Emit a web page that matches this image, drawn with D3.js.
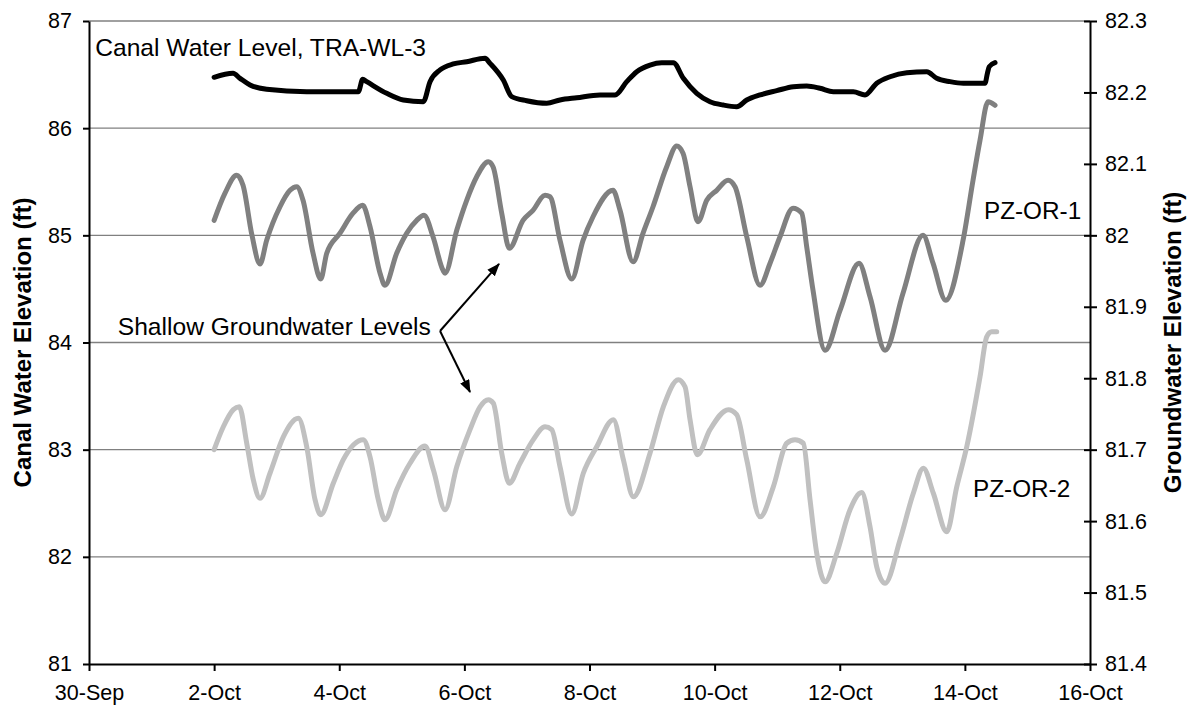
<!DOCTYPE html>
<html>
<head>
<meta charset="utf-8">
<script src="https://cdn.jsdelivr.net/npm/d3@7"></script>
<style>
    body { margin: 0; background: #fff; }
    svg { font-family: "Liberation Sans", Arial, sans-serif; }
</style>
</head>
<body>
<div class="chart-container"></div>
<script>
// Day numbers: 0 = 30-Sep, then N = N-Oct (fractions are hours)
const xTickDays = [0, 2, 4, 6, 8, 10, 12, 14, 16];
const xTickLabels = ['30-Sep', '2-Oct', '4-Oct', '6-Oct', '8-Oct', '10-Oct', '12-Oct', '14-Oct', '16-Oct'];
const leftTicks = [81, 82, 83, 84, 85, 86, 87];
const rightTicks = [81.4, 81.5, 81.6, 81.7, 81.8, 81.9, 82.0, 82.1, 82.2, 82.3];

// Canal water level (left axis, ft)
const canalData = [
    [2.000, 86.475], [2.302, 86.512], [2.414, 86.465], [2.574, 86.403], [2.840, 86.363],
    [3.480, 86.340], [4.305, 86.340], [4.375, 86.456], [4.439, 86.434], [4.759, 86.325],
    [5.024, 86.263], [5.344, 86.247], [5.451, 86.434], [5.611, 86.543], [5.823, 86.599],
    [6.037, 86.620], [6.330, 86.652], [6.410, 86.605], [6.622, 86.449], [6.757, 86.294],
    [6.996, 86.256], [7.316, 86.232], [7.529, 86.263], [7.796, 86.284], [8.168, 86.310],
    [8.408, 86.310], [8.595, 86.434], [8.755, 86.527], [8.967, 86.589], [9.154, 86.611],
    [9.340, 86.611], [9.500, 86.465], [9.714, 86.325], [9.926, 86.247], [10.139, 86.216],
    [10.353, 86.200], [10.513, 86.263], [10.726, 86.310], [10.993, 86.350], [11.258, 86.387],
    [11.472, 86.393], [11.685, 86.372], [11.897, 86.340], [12.217, 86.340], [12.404, 86.310],
    [12.591, 86.419], [12.804, 86.480], [13.071, 86.518], [13.390, 86.527], [13.550, 86.465],
    [13.763, 86.434], [13.976, 86.419], [14.322, 86.419], [14.360, 86.512], [14.390, 86.574],
    [14.482, 86.611]
];

// PZ-OR-1 groundwater (right axis, ft)
const pz1Data = [
    [2.000, 82.021], [2.174, 82.059], [2.361, 82.084], [2.462, 82.070], [2.605, 82.000],
    [2.733, 81.960], [2.840, 81.993], [3.053, 82.040], [3.213, 82.063], [3.320, 82.068],
    [3.421, 82.049], [3.581, 81.975], [3.704, 81.939], [3.800, 81.975], [4.012, 82.003],
    [4.220, 82.031], [4.375, 82.042], [4.492, 82.012], [4.652, 81.947], [4.731, 81.930],
    [4.918, 81.975], [5.078, 82.003], [5.238, 82.021], [5.355, 82.028], [5.499, 81.998],
    [5.659, 81.951], [5.691, 81.947], [5.878, 82.007], [6.037, 82.049], [6.197, 82.082],
    [6.383, 82.103], [6.458, 82.096], [6.597, 82.031], [6.718, 81.982], [6.937, 82.021],
    [7.097, 82.035], [7.289, 82.056], [7.369, 82.054], [7.529, 81.993], [7.716, 81.939],
    [7.897, 81.993], [8.056, 82.026], [8.376, 82.063], [8.488, 82.035], [8.696, 81.963],
    [8.856, 82.003], [9.015, 82.040], [9.234, 82.096], [9.394, 82.125], [9.495, 82.115],
    [9.607, 82.068], [9.735, 82.019], [9.874, 82.049], [10.034, 82.063], [10.214, 82.077],
    [10.326, 82.068], [10.513, 81.998], [10.726, 81.930], [10.886, 81.961], [11.045, 81.998],
    [11.253, 82.038], [11.392, 82.031], [11.472, 81.984], [11.573, 81.923], [11.765, 81.839],
    [12.005, 81.895], [12.308, 81.961], [12.484, 81.914], [12.724, 81.839], [13.011, 81.919],
    [13.331, 82.000], [13.491, 81.961], [13.694, 81.909], [13.971, 81.993], [14.130, 82.077],
    [14.242, 82.133], [14.370, 82.187], [14.482, 82.182]
];

// PZ-OR-2 groundwater (right axis, ft)
const pz2Data = [
    [2.000, 81.700], [2.147, 81.732], [2.307, 81.756], [2.402, 81.760], [2.521, 81.709],
    [2.626, 81.658], [2.733, 81.632], [2.893, 81.667], [3.106, 81.718], [3.346, 81.744],
    [3.480, 81.704], [3.613, 81.630], [3.704, 81.609], [3.905, 81.653], [4.065, 81.686],
    [4.385, 81.714], [4.492, 81.690], [4.624, 81.630], [4.731, 81.602], [4.918, 81.644],
    [5.131, 81.681], [5.371, 81.705], [5.504, 81.672], [5.691, 81.616], [5.878, 81.676],
    [6.090, 81.728], [6.250, 81.760], [6.383, 81.770], [6.463, 81.765], [6.597, 81.695],
    [6.718, 81.653], [6.889, 81.681], [7.102, 81.714], [7.289, 81.732], [7.396, 81.728],
    [7.529, 81.676], [7.716, 81.610], [7.901, 81.667], [8.115, 81.704], [8.381, 81.742],
    [8.541, 81.686], [8.701, 81.634], [8.967, 81.695], [9.180, 81.760], [9.420, 81.798],
    [9.527, 81.788], [9.607, 81.742], [9.724, 81.693], [9.926, 81.728], [10.219, 81.756],
    [10.353, 81.749], [10.513, 81.686], [10.726, 81.606], [10.938, 81.648], [11.152, 81.709],
    [11.285, 81.714], [11.418, 81.709], [11.525, 81.630], [11.632, 81.555], [11.765, 81.515],
    [11.952, 81.555], [12.164, 81.616], [12.351, 81.640], [12.484, 81.592], [12.591, 81.536],
    [12.724, 81.513], [12.964, 81.574], [13.176, 81.639], [13.336, 81.674], [13.496, 81.639],
    [13.710, 81.585], [13.870, 81.648], [14.030, 81.704], [14.242, 81.802], [14.349, 81.858],
    [14.429, 81.865], [14.509, 81.865]
];

// Annotation arrows (left-axis units): start near the text, tips on each series
const arrowStart = [5.611, 84.107];
const arrowTips = [[6.554, 84.733], [6.090, 83.538]];

function draw() {
    const width = 1187;
    const height = 706;
    const marginTop = 21;
    const marginRight = 97;
    const marginBottom = 42;
    const marginLeft = 89;

    const x = d3.scaleLinear()
        .domain([0, 16])
        .range([marginLeft, width - marginRight]);

    const yLeft = d3.scaleLinear()
        .domain([81, 87])
        .range([height - marginBottom, marginTop]);

    const yRight = d3.scaleLinear()
        .domain([81.4, 82.3])
        .range([height - marginBottom, marginTop]);

    const svg = d3.select('.chart-container').append('svg')
        .attr('width', width)
        .attr('height', height);

    // Gridlines
    svg.append('g')
        .selectAll('line')
        .data(leftTicks.filter(d => d > 81))
        .enter()
        .append('line')
        .attr('x1', marginLeft)
        .attr('x2', width - marginRight)
        .attr('y1', d => yLeft(d))
        .attr('y2', d => yLeft(d))
        .attr('stroke', '#808080')
        .attr('stroke-width', 1.4);

    // Series
    const lineLeft = d3.line()
        .x(d => x(d[0]))
        .y(d => yLeft(d[1]))
        .curve(d3.curveMonotoneX);

    const lineRight = d3.line()
        .x(d => x(d[0]))
        .y(d => yRight(d[1]))
        .curve(d3.curveMonotoneX);

    svg.append('path')
        .datum(pz2Data)
        .attr('d', lineRight)
        .attr('fill', 'none')
        .attr('stroke', '#c0c0c0')
        .attr('stroke-width', 5)
        .attr('stroke-linejoin', 'round')
        .attr('stroke-linecap', 'round');

    svg.append('path')
        .datum(pz1Data)
        .attr('d', lineRight)
        .attr('fill', 'none')
        .attr('stroke', '#808080')
        .attr('stroke-width', 5)
        .attr('stroke-linejoin', 'round')
        .attr('stroke-linecap', 'round');

    svg.append('path')
        .datum(canalData)
        .attr('d', lineLeft)
        .attr('fill', 'none')
        .attr('stroke', '#000')
        .attr('stroke-width', 5)
        .attr('stroke-linejoin', 'round')
        .attr('stroke-linecap', 'round');

    // Axes
    const styleAxis = g => {
        g.attr('font-size', null).attr('font-family', null);
        g.select('.domain').attr('stroke', '#000').attr('stroke-width', 2);
        g.selectAll('.tick line').attr('stroke', '#000').attr('stroke-width', 2);
        g.selectAll('.tick text').style('font-size', '21.5px').attr('fill', '#000');
    };

    svg.append('g')
        .attr('transform', `translate(${marginLeft},0)`)
        .call(d3.axisLeft(yLeft).tickValues(leftTicks).tickSize(6).tickSizeOuter(0).tickPadding(11)
            .tickFormat(d => String(d)))
        .call(styleAxis);

    const rightAxis = svg.append('g')
        .attr('transform', `translate(${width - marginRight},0)`)
        .call(d3.axisRight(yRight).tickValues(rightTicks).tickSize(7).tickSizeOuter(0).tickPadding(8)
            .tickFormat(d => String(+d.toFixed(1))))
        .call(styleAxis);

    rightAxis.selectAll('.tick')
        .append('line')
        .attr('x2', -6)
        .attr('stroke', '#000')
        .attr('stroke-width', 2);

    svg.append('g')
        .attr('transform', `translate(0,${height - marginBottom})`)
        .call(d3.axisBottom(x).tickValues(xTickDays).tickSize(7).tickSizeOuter(0).tickPadding(14)
            .tickFormat((d, i) => xTickLabels[i]))
        .call(styleAxis);

    // Axis titles
    svg.append('text')
        .attr('transform', `translate(31,${(marginTop + height - marginBottom) / 2}) rotate(-90)`)
        .attr('text-anchor', 'middle')
        .style('font-size', '24px')
        .style('font-weight', 'bold')
        .text('Canal Water Elevation (ft)');

    svg.append('text')
        .attr('transform', `translate(1181,${(marginTop + height - marginBottom) / 2}) rotate(-90)`)
        .attr('text-anchor', 'middle')
        .style('font-size', '24px')
        .style('font-weight', 'bold')
        .text('Groundwater Elevation (ft)');

    // Series labels
    svg.append('text')
        .attr('x', x(0.1))
        .attr('y', yLeft(86.677))
        .style('font-size', '24.6px')
        .text('Canal Water Level, TRA-WL-3');

    svg.append('text')
        .attr('x', x(14.305))
        .attr('y', yRight(82.023))
        .style('font-size', '24.3px')
        .text('PZ-OR-1');

    svg.append('text')
        .attr('x', x(14.13))
        .attr('y', yRight(81.634))
        .style('font-size', '24.3px')
        .text('PZ-OR-2');

    svg.append('text')
        .attr('x', x(0.46))
        .attr('y', yLeft(84.072))
        .style('font-size', '24.6px')
        .text('Shallow Groundwater Levels');

    // Arrows
    svg.append('defs').append('marker')
        .attr('id', 'arrowhead')
        .attr('markerUnits', 'userSpaceOnUse')
        .attr('markerWidth', 13)
        .attr('markerHeight', 10)
        .attr('refX', 12)
        .attr('refY', 5)
        .attr('orient', 'auto')
        .append('path')
        .attr('d', 'M0,0 L13,5 L0,10 z')
        .attr('fill', '#000');

    svg.append('g')
        .selectAll('line')
        .data(arrowTips)
        .enter()
        .append('line')
        .attr('x1', x(arrowStart[0]))
        .attr('y1', yLeft(arrowStart[1]))
        .attr('x2', d => x(d[0]))
        .attr('y2', d => yLeft(d[1]))
        .attr('stroke', '#000')
        .attr('stroke-width', 2)
        .attr('marker-end', 'url(#arrowhead)');
}

draw();
</script>
</body>
</html>
